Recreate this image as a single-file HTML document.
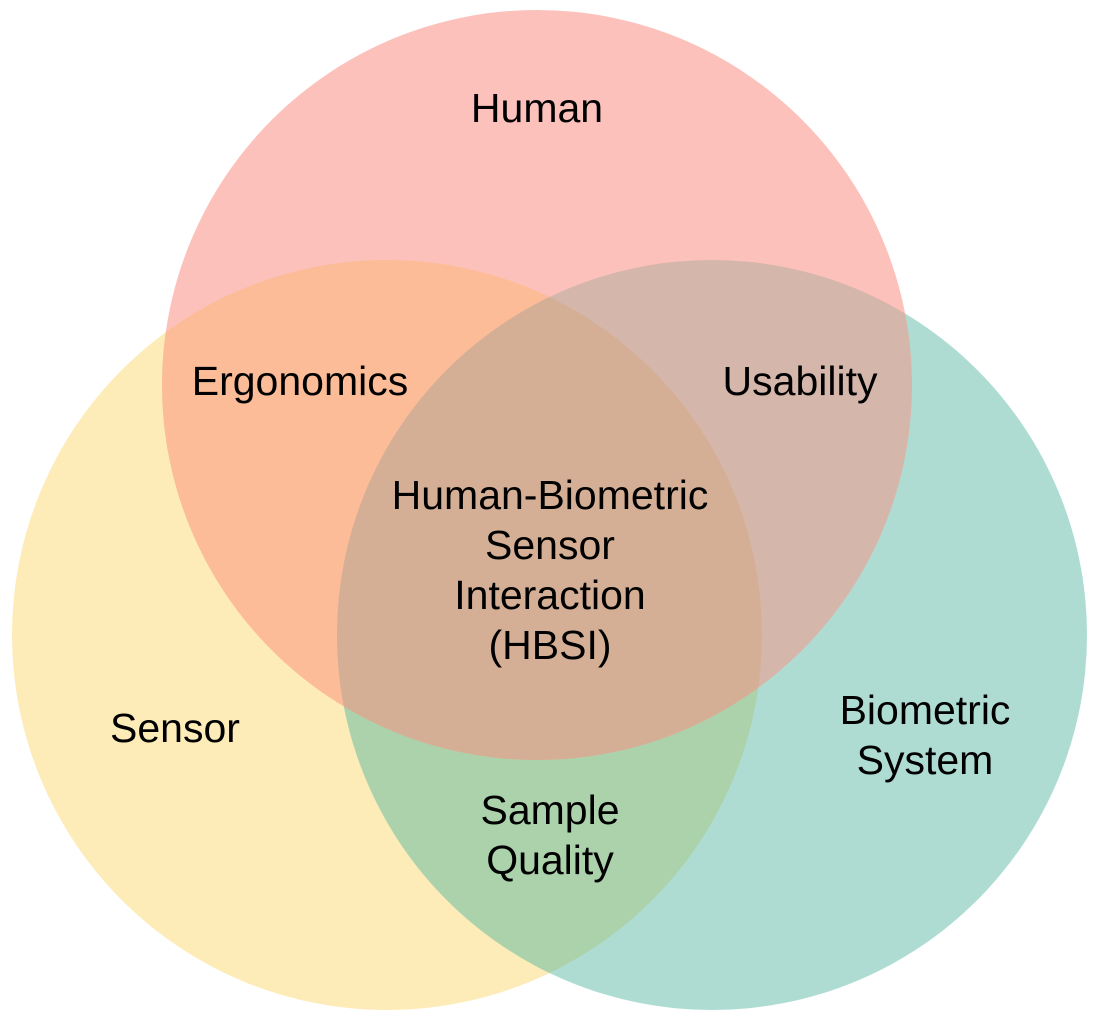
<!DOCTYPE html>
<html><head><meta charset="utf-8"><style>html,body{margin:0;padding:0;background:#fff}svg{display:block}</style></head>
<body>
<svg width="1100" height="1021" viewBox="0 0 1100 1021" xmlns="http://www.w3.org/2000/svg">
<defs>
<clipPath id="cH"><circle cx="537" cy="385" r="375"/></clipPath>
<clipPath id="cS"><circle cx="387" cy="635" r="375"/></clipPath>
<clipPath id="cB"><circle cx="712" cy="635" r="375"/></clipPath>
</defs>
<circle cx="387" cy="635" r="375" fill="#fdebb8"/>
<circle cx="712" cy="635" r="375" fill="#aedcd3"/>
<circle cx="537" cy="385" r="375" fill="#fdc1bb"/>
<g clip-path="url(#cS)"><circle cx="712" cy="635" r="375" fill="#abd2ab"/></g>
<g clip-path="url(#cS)"><circle cx="537" cy="385" r="375" fill="#fcbc98"/></g>
<g clip-path="url(#cB)"><circle cx="537" cy="385" r="375" fill="#d4b6aa"/></g>
<g clip-path="url(#cS)"><g clip-path="url(#cB)"><circle cx="537" cy="385" r="375" fill="#d4af95"/></g></g>
<g font-family="Liberation Sans, sans-serif" font-size="41" fill="#000" text-anchor="middle">
<text x="537" y="122">Human</text>
<text x="300" y="395">Ergonomics</text>
<text x="800" y="395">Usability</text>
<text x="550" y="509">Human-Biometric</text>
<text x="550" y="559">Sensor</text>
<text x="550" y="609">Interaction</text>
<text x="550" y="659">(HBSI)</text>
<text x="175" y="742">Sensor</text>
<text x="925" y="724">Biometric</text>
<text x="925" y="774">System</text>
<text x="550" y="824">Sample</text>
<text x="550" y="874">Quality</text>
</g>
</svg>
</body></html>
